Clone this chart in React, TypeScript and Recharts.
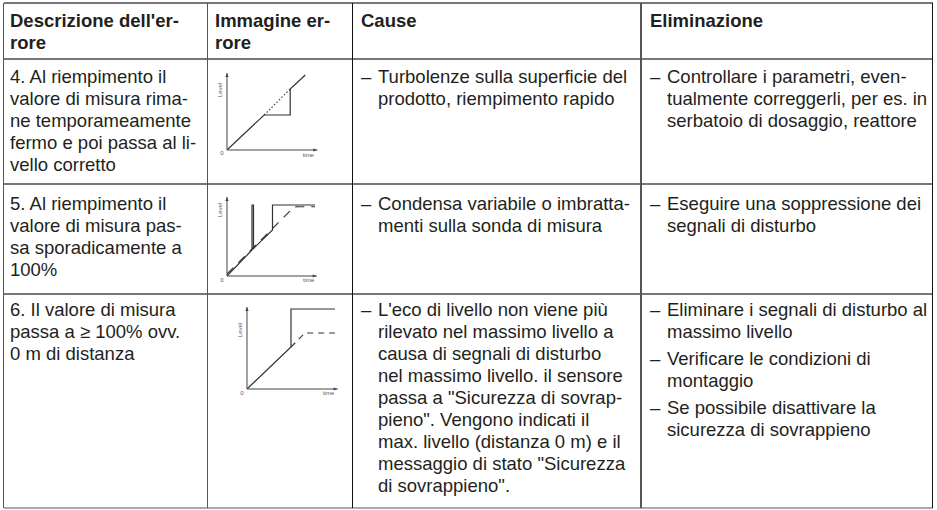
import { LineChart, Line, XAxis, YAxis, Label } from 'recharts'

// Immagine errore 4: il valore resta fermo, poi salta al livello corretto
const c1Time = [0, 37, 63, 63, 78]
const c1Level = [0, 35, 35, 61, 75]
const c1RealTime = [37, 63]
const c1RealLevel = [35, 61]

// Immagine errore 5: salti sporadici a 100%
const c2Time = [0, 25, 25, 26.5, 26.5, 45.5, 45.5, 88]
const c2Level = [0, 26, 71, 71, 27.5, 46, 71, 71]
const c2RealTime = [0, 67, 71, 88]
const c2RealLevel = [2, 69, 69.3, 69.3]

// Immagine errore 6: valore a 100% (sicurezza di sovrappieno)
const c3Time = [0, 44, 44, 88]
const c3Level = [0, 42, 80, 80]
const c3RealTime = [44, 58, 88]
const c3RealLevel = [42, 56, 56]

const toRows = (t: number[], l: number[]) => t.map((v, i) => ({ time: v, level: l[i] }))

const headers = [['Descrizione dell\'er-', 'rore'], ['Immagine er-', 'rore'], ['Cause'], ['Eliminazione']]

const descr4 = ['4. Al riempimento il', 'valore di misura rima-', 'ne temporameamente', 'fermo e poi passa al li-', 'vello corretto']
const cause4 = [['Turbolenze sulla superficie del', 'prodotto, riempimento rapido']]
const fix4 = [['Controllare i parametri, even-', 'tualmente correggerli, per es. in', 'serbatoio di dosaggio, reattore']]

const descr5 = ['5. Al riempimento il', 'valore di misura pas-', 'sa sporadicamente a', '100%']
const cause5 = [['Condensa variabile o imbratta-', 'menti sulla sonda di misura']]
const fix5 = [['Eseguire una soppressione dei', 'segnali di disturbo']]

const descr6 = ['6. Il valore di misura', 'passa a ≥ 100% ovv.', '0 m di distanza']
const cause6 = [[
  'L\'eco di livello non viene più',
  'rilevato nel massimo livello a',
  'causa di segnali di disturbo',
  'nel massimo livello. il sensore',
  'passa a "Sicurezza di sovrap-',
  'pieno". Vengono indicati il',
  'max. livello (distanza 0 m) e il',
  'messaggio di stato "Sicurezza',
  'di sovrappieno".',
]]
const fix6 = [
  ['Eliminare i segnali di disturbo al', 'massimo livello'],
  ['Verificare le condizioni di', 'montaggio'],
  ['Se possibile disattivare la', 'sicurezza di sovrappieno'],
]

const COLS = [3.5, 207.5, 352.5, 641, 932.5]
const ROWS = [3, 59, 184, 294, 508]
const TEXT_X = [10, 215, 361, 650]
const TEXT_Y = [10, 66, 193, 299]

type Box = { left: number; top: number; right: number; bottom: number }

function MiniChart({ box, xMax, yMax, levelY, measured, real, dash, zero, time }: {
  box: Box; xMax: number; yMax: number; levelY: number
  measured: { time: number; level: number }[]
  real: { time: number; level: number }[]
  dash: string
  zero: [number, number]
  time: [number, number]
}) {
  // the axes take 1px each, so the margin is 1px smaller on those sides
  const m = { top: 5, right: 8, bottom: 11, left: 11 }
  const w = box.right - box.left + m.left + m.right + 1
  const h = box.bottom - box.top + m.top + m.bottom + 1
  return (
    <div style={{ position: 'absolute', left: box.left - m.left - 1, top: box.top - m.top }}>
      <LineChart width={w} height={h} margin={m}>
        <XAxis type="number" dataKey="time" domain={[0, xMax]} allowDataOverflow height={1}
          tick={false} tickLine={false}
          axisLine={{ stroke: '#444', strokeWidth: 1, markerEnd: 'url(#arrowHead)' }}>
          <Label content={(p: any) => {
            const vb = p.viewBox || {}
            return (
              <g fontFamily="Liberation Sans, Arial" fontSize={6} fill="#555">
                <text x={vb.x + zero[0]} y={vb.y + zero[1]} textAnchor="middle">0</text>
                <text x={vb.x + vb.width + time[0]} y={vb.y + time[1]} textAnchor="middle">time</text>
              </g>
            )
          }} />
        </XAxis>
        <YAxis type="number" dataKey="level" domain={[0, yMax]} allowDataOverflow width={1}
          tick={false} tickLine={false}
          axisLine={{ stroke: '#444', strokeWidth: 1, markerStart: 'url(#arrowHead)' }}>
          <Label content={(p: any) => {
            const vb = p.viewBox || {}
            const lx = vb.x + vb.width - 5
            const ly = vb.y + levelY
            return (
              <text x={lx} y={ly} transform={`rotate(-90 ${lx} ${ly})`} textAnchor="middle"
                fontFamily="Liberation Sans, Arial" fontSize={6} fill="#555">Level</text>
            )
          }} />
        </YAxis>
        <Line data={real} dataKey="level" type="linear" stroke="#333" strokeWidth={1.1}
          strokeDasharray={dash} dot={false} activeDot={false} isAnimationActive={false} />
        <Line data={measured} dataKey="level" type="linear" stroke="#333" strokeWidth={1.2}
          dot={false} activeDot={false} isAnimationActive={false} />
      </LineChart>
    </div>
  )
}

function Lines({ lines, x, y, bold }: { lines: string[]; x: number; y: number; bold?: boolean }) {
  return (
    <div style={{ position: 'absolute', left: x, top: y, fontWeight: bold ? 'bold' : 'normal' }}>
      {lines.map((l, i) => <div key={i}>{l}</div>)}
    </div>
  )
}

function Bullets({ items, x, y }: { items: string[][]; x: number; y: number }) {
  return (
    <div style={{ position: 'absolute', left: x, top: y }}>
      {items.map((it, i) => (
        <div key={i} style={{ position: 'relative', paddingLeft: 17, marginTop: i ? 5 : 0 }}>
          <span style={{ position: 'absolute', left: 0 }}>–</span>
          {it.map((l, j) => <div key={j}>{l}</div>)}
        </div>
      ))}
    </div>
  )
}

export default function App() {
  return (
    <div style={{
      position: 'absolute', left: 0, top: 0, width: 937, height: 510, background: '#fff',
      fontFamily: '"Liberation Sans", Arial, sans-serif', fontSize: 18.5, lineHeight: '22px',
      color: '#231f20', whiteSpace: 'nowrap', overflow: 'hidden',
    }}>
      <svg width={0} height={0} style={{ position: 'absolute' }}>
        <defs>
          <marker id="arrowHead" viewBox="0 0 10 10" refX={10} refY={5} markerWidth={5} markerHeight={4}
            markerUnits="userSpaceOnUse" orient="auto-start-reverse">
            <path d="M0,1 L10,5 L0,9 z" fill="#444" />
          </marker>
        </defs>
      </svg>

      {ROWS.map((y, i) => (
        <div key={'h' + i} style={{
          position: 'absolute', left: COLS[0], top: y - 0.75, width: COLS[4] - COLS[0], height: 1.5,
          background: i === ROWS.length - 1 ? '#aaa' : '#777',
        }} />
      ))}
      {COLS.map((x, i) => (
        <div key={'v' + i} style={{
          position: 'absolute', left: x - 0.75, top: ROWS[0], width: 1.5, height: ROWS[4] - ROWS[0],
          background: i === 2 || i === 4 ? '#111' : '#555',
        }} />
      ))}

      {headers.map((h, i) => <Lines key={i} lines={h} x={TEXT_X[i]} y={TEXT_Y[0]} bold />)}

      <Lines lines={descr4} x={TEXT_X[0]} y={TEXT_Y[1]} />
      <Bullets items={cause4} x={TEXT_X[2]} y={TEXT_Y[1]} />
      <Bullets items={fix4} x={TEXT_X[3]} y={TEXT_Y[1]} />

      <Lines lines={descr5} x={TEXT_X[0]} y={TEXT_Y[2]} />
      <Bullets items={cause5} x={TEXT_X[2]} y={TEXT_Y[2]} />
      <Bullets items={fix5} x={TEXT_X[3]} y={TEXT_Y[2]} />

      <Lines lines={descr6} x={TEXT_X[0]} y={TEXT_Y[3]} />
      <Bullets items={cause6} x={TEXT_X[2]} y={TEXT_Y[3]} />
      <Bullets items={fix6} x={TEXT_X[3]} y={TEXT_Y[3]} />

      <MiniChart box={{ left: 226.7, top: 73, right: 317, bottom: 150 }} xMax={90} yMax={77} levelY={17}
        measured={toRows(c1Time, c1Level)} real={toRows(c1RealTime, c1RealLevel)} dash="1.5 2"
        zero={[-5, 5]} time={[-9, 7]} />
      <MiniChart box={{ left: 227.3, top: 197, right: 317, bottom: 276 }} xMax={89.7} yMax={79} levelY={13}
        measured={toRows(c2Time, c2Level)} real={toRows(c2RealTime, c2RealLevel)} dash="9 7"
        zero={[-5, 6]} time={[-8, 6]} />
      <MiniChart box={{ left: 246.7, top: 307, right: 337.3, bottom: 389 }} xMax={90.6} yMax={82} levelY={23}
        measured={toRows(c3Time, c3Level)} real={toRows(c3RealTime, c3RealLevel)} dash="6 5"
        zero={[-5, 6]} time={[-9, 6]} />
    </div>
  )
}
